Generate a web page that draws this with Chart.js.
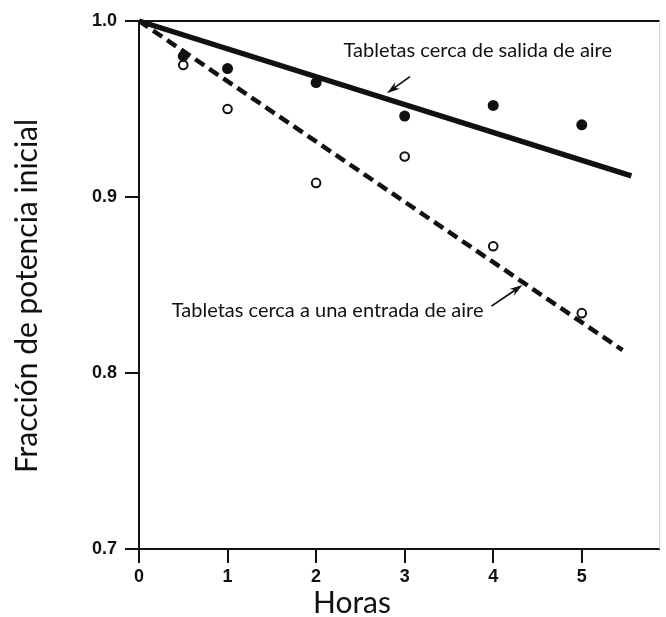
<!DOCTYPE html>
<html>
<head>
<meta charset="utf-8">
<script src="https://cdn.jsdelivr.net/npm/chart.js@4/dist/chart.umd.min.js"></script>
<style>
  html, body { margin: 0; padding: 0; background: #fff; }
  #wrap { width: 666px; height: 617px; }
</style>
</head>
<body>
<div id="wrap"><canvas id="potChart" width="666" height="617"></canvas></div>
<script>
// horas y fraccion de potencia medidas
var salidaHoras = [0.5, 1, 2, 3, 4, 5];
var salidaFraccion = [0.980, 0.973, 0.965, 0.946, 0.952, 0.941];
var entradaHoras = [0.5, 1, 2, 3, 4, 5];
var entradaFraccion = [0.975, 0.950, 0.908, 0.923, 0.872, 0.834];

// rectas de ajuste (extremos)
var ajusteSalidaHoras = [0, 5.56];
var ajusteSalidaFraccion = [1.0, 0.912];
var ajusteEntradaHoras = [0, 5.46];
var ajusteEntradaFraccion = [1.0, 0.813];

var ticksHoras = [0, 1, 2, 3, 4, 5];
var ticksFraccion = [0.7, 0.8, 0.9, 1.0];

var tituloX = "Horas";
var tituloY = "Fracción de potencia inicial";
var notaSalida = "Tabletas cerca de salida de aire";
var notaEntrada = "Tabletas cerca a una entrada de aire";

function pares(xs, ys) {
  return xs.map(function (x, i) {
    return { x: x, y: ys[i] };
  });
}

var textFont = "Lato, 'Open Sans', sans-serif";
var tickFont = { family: "'Liberation Sans', Arial, sans-serif", size: 18, weight: "bold" };
var largoMarca = 14;

// texto y flechas de las notas, en unidades de los ejes
var notas = [
  { text: notaSalida, x: 2.31, y: 0.9798, align: "left",
    from: [3.06, 0.9684], to: [2.80, 0.9590] },
  { text: notaEntrada, x: 3.89, y: 0.8318, align: "right",
    from: [3.98, 0.838], to: [4.33, 0.8500] },
];

function flecha(ctx, x1, y1, x2, y2) {
  var ang = Math.atan2(y2 - y1, x2 - x1);
  var len = 13, w = 4;
  var c = Math.cos(ang), s = Math.sin(ang);
  ctx.beginPath();
  ctx.moveTo(x1, y1);
  ctx.lineTo(x2 - c * len * 0.6, y2 - s * len * 0.6);
  ctx.lineWidth = 1.8;
  ctx.strokeStyle = "#111";
  ctx.stroke();
  ctx.beginPath();
  ctx.moveTo(x2, y2);
  ctx.lineTo(x2 - c * len - s * w, y2 - s * len + c * w);
  ctx.lineTo(x2 - c * len * 0.7, y2 - s * len * 0.7);
  ctx.lineTo(x2 - c * len + s * w, y2 - s * len - c * w);
  ctx.closePath();
  ctx.fillStyle = "#111";
  ctx.fill();
}

// marco, marcas de los ejes, notas y titulos
var marcoYNotas = {
  id: "marcoYNotas",
  afterDraw: function (chart) {
    var ctx = chart.ctx;
    var a = chart.chartArea;
    var sx = chart.scales.x, sy = chart.scales.y;
    ctx.save();

    // marcas hacia afuera del area
    ctx.strokeStyle = "#111";
    ctx.lineWidth = 2;
    ticksHoras.forEach(function (v) {
      var px = Math.round(sx.getPixelForValue(v));
      ctx.beginPath();
      ctx.moveTo(px, a.bottom);
      ctx.lineTo(px, a.bottom + largoMarca);
      ctx.stroke();
    });
    ticksFraccion.forEach(function (v) {
      var py = Math.round(sy.getPixelForValue(v));
      ctx.beginPath();
      ctx.moveTo(a.left, py);
      ctx.lineTo(a.left - largoMarca, py);
      ctx.stroke();
    });

    // borde superior y derecho
    ctx.beginPath();
    ctx.moveTo(a.left, a.top);
    ctx.lineTo(a.right, a.top);
    ctx.lineWidth = 2;
    ctx.strokeStyle = "#111";
    ctx.stroke();
    ctx.beginPath();
    ctx.moveTo(a.right, a.top);
    ctx.lineTo(a.right, a.bottom);
    ctx.lineWidth = 1;
    ctx.strokeStyle = "#c8c8c8";
    ctx.stroke();

    ctx.font = "20px " + textFont;
    ctx.fillStyle = "#111";
    ctx.textBaseline = "alphabetic";
    notas.forEach(function (n) {
      ctx.textAlign = n.align;
      ctx.fillText(n.text, sx.getPixelForValue(n.x), sy.getPixelForValue(n.y));
      flecha(ctx,
        sx.getPixelForValue(n.from[0]), sy.getPixelForValue(n.from[1]),
        sx.getPixelForValue(n.to[0]), sy.getPixelForValue(n.to[1]));
    });

    // titulos de los ejes
    ctx.font = "30px " + textFont;
    ctx.fillStyle = "#111";
    ctx.textAlign = "center";
    ctx.textBaseline = "middle";
    ctx.fillText(tituloX, 352, 603);
    ctx.translate(27, 296);
    ctx.rotate(-Math.PI / 2);
    ctx.fillText(tituloY, 0, 0);
    ctx.restore();
  },
};

var ctx = document.getElementById("potChart").getContext("2d");
var chart = new Chart(ctx, {
  type: "scatter",
  data: {
    datasets: [
      {
        label: "Salida (medido)",
        data: pares(salidaHoras, salidaFraccion),
        pointRadius: 5.5,
        pointBackgroundColor: "#111",
        pointBorderColor: "#111",
        pointBorderWidth: 0,
        showLine: false,
        clip: false,
      },
      {
        label: "Entrada (medido)",
        data: pares(entradaHoras, entradaFraccion),
        pointRadius: 4.3,
        pointBackgroundColor: "#fff",
        pointBorderColor: "#111",
        pointBorderWidth: 2,
        showLine: false,
        clip: false,
      },
      {
        label: "Salida (ajuste)",
        data: pares(ajusteSalidaHoras, ajusteSalidaFraccion),
        showLine: true,
        borderColor: "#111",
        borderWidth: 5.5,
        borderCapStyle: "butt",
        pointRadius: 0,
        clip: false,
      },
      {
        label: "Entrada (ajuste)",
        data: pares(ajusteEntradaHoras, ajusteEntradaFraccion),
        showLine: true,
        borderColor: "#111",
        borderWidth: 4.5,
        borderDash: [11, 6],
        borderCapStyle: "butt",
        pointRadius: 0,
        clip: false,
      },
    ],
  },
  options: {
    responsive: false,
    animation: false,
    devicePixelRatio: 1,
    layout: { padding: { top: 21, right: 1, left: 0, bottom: 0 } },
    plugins: {
      legend: { display: false },
      tooltip: { enabled: false },
    },
    scales: {
      x: {
        type: "linear",
        min: 0,
        max: 5.88,
        afterBuildTicks: function (s) {
          s.ticks = ticksHoras.map(function (v) { return { value: v }; });
        },
        afterFit: function (s) { s.height = 68; },
        ticks: {
          color: "#111",
          font: tickFont,
          padding: 3,
          maxRotation: 0,
          callback: function (v) { return String(v); },
        },
        // las marcas van en el plugin; tickLength solo separa los numeros
        grid: { display: false, drawTicks: true, tickLength: largoMarca },
        border: { display: true, color: "#111", width: 2 },
      },
      y: {
        type: "linear",
        min: 0.7,
        max: 1.0,
        afterBuildTicks: function (s) {
          s.ticks = ticksFraccion.map(function (v) { return { value: v }; });
        },
        afterFit: function (s) { s.width = 139; },
        ticks: {
          color: "#111",
          font: tickFont,
          padding: 8,
          callback: function (v) { return Number(v).toFixed(1); },
        },
        grid: { display: false, drawTicks: true, tickLength: largoMarca },
        border: { display: true, color: "#111", width: 2 },
      },
    },
  },
  plugins: [marcoYNotas],
});
</script>
</body>
</html>
